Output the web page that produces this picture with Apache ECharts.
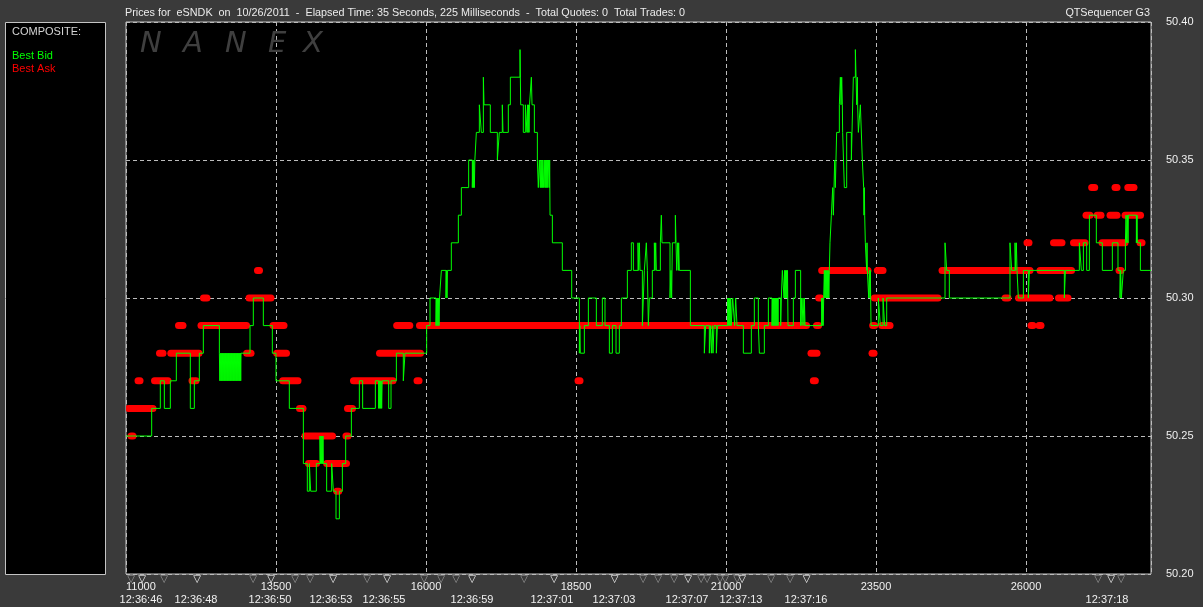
<!DOCTYPE html>
<html><head><meta charset="utf-8">
<script src="https://cdn.jsdelivr.net/npm/echarts@6/dist/echarts.min.js"></script>
<style>html,body{margin:0;padding:0;background:#3a3a3a;}#c{width:1203px;height:607px;}</style>
</head><body><div id="c"></div>
<script>
// ---- data ----
const seqTicks = [11000, 13500, 16000, 18500, 21000, 23500, 26000];
const priceTicks = [50.20, 50.25, 50.30, 50.35, 50.40];
// quote markers (sequence numbers); bright ones carry a time label
const markerSeqGrey = [11083, 11633, 13117, 13817, 14067, 15017, 15967, 16250, 16500, 17633, 19617, 19867, 20133, 20583, 20683, 20900, 20983, 21183, 21750, 22067, 27200, 27583];
const markerSeqWhite = [11267, 12183, 13417, 14450, 15350, 16767, 18133, 19143, 20367, 21267, 22342, 27417];
const timeSeq = [11250, 12167, 13400, 14417, 15300, 16767, 18100, 19133, 20350, 21250, 22333, 27350];
const timeLabels = ['12:36:46', '12:36:48', '12:36:50', '12:36:53', '12:36:55', '12:36:59', '12:37:01', '12:37:03', '12:37:07', '12:37:13', '12:37:16', '12:37:18'];

// Best Bid: [sequence, price] (held until next change)
const bestBid = [
[11000,50.25],[11428,50.26],[11572,50.27],[11639,50.26],[11739,50.27],[11839,50.28],[12072,50.26],[12139,50.27],[12222,50.28],[12289,50.29],[12556,50.28],
[12564,50.27],[12572,50.28],[12581,50.27],[12589,50.28],[12597,50.27],[12606,50.28],[12614,50.27],[12622,50.28],[12631,50.27],[12639,50.28],[12647,50.27],[12656,50.28],[12664,50.27],[12672,50.28],[12681,50.27],[12689,50.28],[12697,50.27],[12706,50.28],[12714,50.27],[12722,50.28],[12731,50.27],[12739,50.28],[12747,50.27],[12756,50.28],[12764,50.27],[12772,50.28],[12781,50.27],[12789,50.28],[12797,50.27],[12806,50.28],[12814,50.27],[12822,50.28],[12831,50.27],[12839,50.28],[12847,50.27],[12856,50.28],[12864,50.27],[12872,50.28],[12881,50.27],[12889,50.28],[12897,50.27],[12906,50.28],[12912,50.27],[12917,50.28],
[13067,50.29],[13122,50.30],[13289,50.29],[13439,50.28],[13500,50.27],[13722,50.26],[13956,50.24],[14022,50.23],[14056,50.24],[14078,50.23],[14172,50.24],[14233,50.25],[14242,50.24],[14250,50.25],[14258,50.24],[14267,50.25],[14275,50.24],[14283,50.25],[14289,50.24],[14344,50.23],[14428,50.24],[14456,50.23],[14500,50.22],[14556,50.23],[14606,50.24],[14661,50.25],[14756,50.26],[14889,50.27],[14944,50.26],[15156,50.27],[15211,50.26],[15219,50.27],[15228,50.26],[15236,50.27],[15244,50.26],[15253,50.27],[15261,50.26],[15269,50.27],[15378,50.26],[15417,50.27],[15506,50.28],[15622,50.27],[15650,50.28],[16011,50.29],[16067,50.30],
[16167,50.29],[16175,50.30],[16183,50.29],[16192,50.30],[16200,50.29],[16208,50.30],[16217,50.29],[16225,50.30],[16256,50.31],[16333,50.30],[16342,50.31],[16350,50.30],[16358,50.31],[16422,50.32],[16539,50.33],[16589,50.34],[16711,50.35],[16772,50.34],[16781,50.35],[16789,50.34],[16797,50.35],[16806,50.34],[16814,50.35],[16839,50.36],[16889,50.37],[16922,50.36],[16956,50.38],[16967,50.37],[17072,50.36],[17189,50.35],[17222,50.36],[17272,50.37],[17283,50.36],[17372,50.37],[17406,50.38],[17567,50.39],[17578,50.37],[17622,50.36],[17656,50.37],[17683,50.36],[17692,50.37],[17700,50.36],[17708,50.37],[17717,50.36],[17725,50.37],[17756,50.38],[17767,50.37],[17806,50.36],[17856,50.35],
[17872,50.34],[17889,50.35],[17906,50.34],[17914,50.35],[17922,50.34],[17931,50.35],[17939,50.34],[17947,50.35],[17956,50.34],[17972,50.35],[17981,50.34],[17989,50.35],[17997,50.34],[18006,50.35],[18014,50.34],[18022,50.35],[18031,50.34],[18039,50.35],[18056,50.34],[18061,50.35],
[18067,50.33],[18106,50.32],[18272,50.31],[18428,50.30],[18556,50.28],[18564,50.29],[18572,50.28],[18639,50.29],[18706,50.30],[18839,50.29],[18939,50.30],[18983,50.29],[19056,50.28],[19106,50.29],[19167,50.28],[19222,50.29],[19256,50.30],[19356,50.31],[19422,50.32],[19456,50.31],[19533,50.32],[19544,50.31],[19556,50.32],[19567,50.31],[19606,50.29],[19639,50.31],[19672,50.32],[19689,50.31],[19706,50.29],[19722,50.30],[19772,50.31],[19806,50.32],[19817,50.31],[19828,50.32],[19839,50.31],[19906,50.32],[19922,50.33],[19933,50.32],[20067,50.30],[20083,50.31],[20094,50.30],[20106,50.32],[20156,50.33],[20167,50.32],[20178,50.31],[20194,50.32],[20206,50.31],[20211,50.32],[20222,50.31],[20406,50.29],[20639,50.28],[20661,50.29],[20722,50.28],[20739,50.29],[20756,50.28],[20772,50.29],[20783,50.28],[20800,50.29],[20839,50.28],[20856,50.29],[21028,50.30],[21036,50.29],[21044,50.30],[21053,50.29],[21061,50.30],[21069,50.29],[21078,50.30],[21086,50.29],[21111,50.30],[21144,50.29],[21161,50.30],[21183,50.29],[21289,50.28],[21422,50.29],[21472,50.30],[21539,50.29],[21556,50.28],[21639,50.29],[21706,50.30],
[21767,50.29],[21775,50.30],[21783,50.29],[21792,50.30],[21800,50.29],[21808,50.30],[21817,50.29],[21825,50.30],[21833,50.29],[21842,50.30],[21850,50.29],[21858,50.30],[21867,50.29],[21872,50.30],
[21911,50.29],[21922,50.30],[21939,50.31],[21967,50.30],[21975,50.31],[21983,50.30],[21992,50.31],[22000,50.30],[22008,50.31],[22017,50.30],[22025,50.31],[22033,50.29],[22122,50.30],[22156,50.31],[22244,50.29],[22256,50.30],[22267,50.29],[22283,50.30],[22300,50.29],[22306,50.30],[22317,50.29],[22594,50.30],[22603,50.29],[22611,50.30],[22619,50.29],[22628,50.30],[22639,50.31],[22647,50.30],[22656,50.31],[22664,50.30],[22672,50.31],[22681,50.30],[22689,50.31],[22697,50.30],[22706,50.31],[22714,50.30],[22722,50.31],[22733,50.32],[22756,50.33],[22778,50.34],[22789,50.33],[22800,50.34],[22811,50.35],[22822,50.34],[22833,50.35],[22844,50.36],[22889,50.37],[22906,50.38],[22917,50.37],[22928,50.38],[22939,50.37],[22944,50.36],[22972,50.34],[23011,50.36],[23089,50.35],[23100,50.36],[23122,50.38],[23156,50.39],[23167,50.38],[23178,50.37],[23189,50.38],[23194,50.37],[23206,50.36],[23239,50.37],[23272,50.35],[23294,50.34],[23300,50.33],[23306,50.34],[23311,50.33],[23322,50.32],[23344,50.31],[23350,50.32],[23356,50.31],[23378,50.30],[23389,50.31],[23400,50.30],[23406,50.31],[23411,50.30],[23417,50.29],[23539,50.30],[23572,50.29],[23617,50.30],[23644,50.29],[23678,50.30],
[24650,50.32],[24678,50.31],[24722,50.30],[25733,50.32],[25761,50.31],[25817,50.32],[25828,50.31],[25839,50.32],[25850,50.31],[25872,50.30],[25956,50.31],[26039,50.30],[26056,50.31],[26639,50.30],[26656,50.31],[26889,50.32],[26922,50.31],[26956,50.32],[27011,50.31],[27056,50.33],[27172,50.32],[27272,50.31],[27439,50.32],[27533,50.31],[27567,50.30],[27578,50.31],[27589,50.30],[27622,50.31],[27656,50.32],[27667,50.33],[27678,50.32],[27689,50.33],[27700,50.32],[27706,50.33],[27839,50.32],[27850,50.33],[27856,50.32],[27906,50.31],[28083,50.31]
];

// Best Ask quote runs: [first sequence, last sequence, price]
const bestAsk = [
[11060,11433,50.26],[11100,11100,50.25],[11217,11217,50.27],[11492,11683,50.27],[11575,11600,50.28],[11763,12200,50.28],[11892,11933,50.29],[12117,12150,50.27],[12267,12992,50.29],[12308,12333,50.30],[13028,13067,50.28],[13067,13400,50.30],[13208,13208,50.31],[13467,13617,50.29],[13528,13658,50.28],[13628,13850,50.27],[13908,13933,50.26],[14000,14425,50.25],[14058,14158,50.24],[14361,14658,50.24],[14528,14528,50.23],[14683,14683,50.25],[14708,14758,50.26],[14808,15433,50.27],[15242,15892,50.28],[15528,15713,50.29],[15867,15867,50.27],[15908,22325,50.29],[18550,18550,50.27],[22433,22500,50.28],[22472,22472,50.27],[22525,22525,50.29],[22561,22561,50.30],[22611,23350,50.31],[23450,23450,50.28],[23461,23461,50.29],[23489,24517,50.30],[23539,23600,50.31],[23611,23717,50.29],[24617,26050,50.31],[25667,25683,50.30],[25892,26383,50.30],[26033,26033,50.32],[26100,26100,50.29],[26233,26233,50.29],[26250,26742,50.31],[26475,26583,50.32],[26558,26683,50.30],[26808,26967,50.32],[27017,27050,50.33],[27111,27128,50.34],[27200,27233,50.33],[27283,27633,50.32],[27417,27500,50.33],[27500,27500,50.34],[27567,27567,50.31],[27667,27892,50.33],[27713,27783,50.34],[27917,27917,50.32]
];

// ---- chart ----
const chart = echarts.init(document.getElementById('c'));
const FONT = 'Liberation Sans, Arial, sans-serif';
const seqMin = 11000, seqMax = 28083;
const whiteSet = new Set(markerSeqWhite);
const timeMap = new Map(timeSeq.map((v, i) => [v, timeLabels[i]]));
const nanex = ['N', 'A', 'N', 'E', 'X'];
const nanexX = [140, 183, 225, 268, 303];

chart.setOption({
  animation: false,
  backgroundColor: '#3a3a3a',
  title: [
    { text: 'Prices for  eSNDK  on  10/26/2011  -  Elapsed Time: 35 Seconds, 225 Milliseconds  -  Total Quotes: 0  Total Trades: 0',
      left: 120, top: 3, textStyle: { color: '#ececec', fontSize: 10.8, fontWeight: 'normal', fontFamily: FONT } },
    { text: 'QTSequencer G3', right: 48, top: 3, textStyle: { color: '#ececec', fontSize: 10.8, fontWeight: 'normal', fontFamily: FONT } }
  ],
  legend: {
    orient: 'vertical', left: 1, top: 45, itemWidth: 0, itemHeight: 0, itemGap: 2, selectedMode: false,
    textStyle: { fontSize: 11, fontFamily: FONT },
    data: [{ name: 'Best Bid', textStyle: { color: '#00ff00' } }, { name: 'Best Ask', textStyle: { color: '#ff0000' } }]
  },
  graphic: [
    { type: 'rect', z: -1, shape: { x: 5.5, y: 22.5, width: 100, height: 552 }, style: { fill: '#000', stroke: '#c4c4c4', lineWidth: 1 } },
    { type: 'text', left: 12, top: 26, style: { text: 'COMPOSITE:', fill: '#d4d4d4', font: '11px ' + FONT } }
  ].concat(nanex.map((ch, i) => ({
    type: 'text', x: nanexX[i], y: 30, z: 1,
    style: { text: ch, fill: '#3f3f3f', font: 'italic 29px "DejaVu Sans", sans-serif' }
  }))),
  grid: { left: 126, right: 52, top: 22, bottom: 33, show: true, backgroundColor: '#000', borderColor: '#c4c4c4', borderWidth: 1 },
  xAxis: [
    { type: 'value', min: seqMin, max: seqMax, interval: 2500,
      axisLine: { show: false }, axisTick: { show: false },
      splitLine: { show: true, lineStyle: { color: '#bcbcbc', type: [4, 3], width: 1 } },
      axisLabel: { color: '#f0f0f0', fontSize: 11, fontFamily: FONT, margin: 7, showMaxLabel: false, alignMinLabel: 'left',
        formatter: v => String(v) } },
    { type: 'value', min: seqMin, max: seqMax, position: 'bottom', gridIndex: 0,
      axisLine: { show: false }, axisTick: { show: false }, splitLine: { show: false },
      axisLabel: { customValues: markerSeqGrey.concat(markerSeqWhite), margin: 0,
        formatter: v => whiteSet.has(v) ? '{w|▽}' : '{g|▽}',
        rich: { w: { color: '#ffffff', fontSize: 10, fontFamily: 'DejaVu Sans' }, g: { color: '#a0a0a0', fontSize: 10, fontFamily: 'DejaVu Sans' } } } },
    { type: 'value', min: seqMin, max: seqMax, position: 'bottom', gridIndex: 0,
      axisLine: { show: false }, axisTick: { show: false }, splitLine: { show: false },
      axisLabel: { customValues: timeSeq, margin: 20, color: '#f0f0f0', fontSize: 11, fontFamily: FONT,
        formatter: v => timeMap.get(v) || '' } }
  ],
  yAxis: {
    type: 'value', position: 'right', min: 50.20, max: 50.40, interval: 0.05,
    axisLine: { show: false }, axisTick: { show: false },
    splitLine: { show: true, lineStyle: { color: '#bcbcbc', type: [4, 3], width: 1 } },
    axisLabel: { color: '#f0f0f0', fontSize: 11, fontFamily: FONT, margin: 15, formatter: v => v.toFixed(2) }
  },
  series: [
    { name: 'Best Ask', type: 'custom', xAxisIndex: 0, yAxisIndex: 0, clip: true, z: 2,
      itemStyle: { color: '#ff0000' },
      encode: { x: [0, 1], y: 2 },
      data: bestAsk,
      renderItem: function (params, api) {
        const p1 = api.coord([api.value(0), api.value(2)]);
        const p2 = api.coord([api.value(1), api.value(2)]);
        const h = 7, ext = 4.5;
        return { type: 'rect', shape: { x: p1[0] - ext, y: p1[1] - h / 2, width: p2[0] - p1[0] + 2 * ext, height: h, r: 3.5 },
          style: { fill: '#ff0000' } };
      } },
    { name: 'Best Bid', type: 'line', step: 'end', xAxisIndex: 0, yAxisIndex: 0, z: 3,
      data: bestBid, showSymbol: false, symbol: 'none', itemStyle: { color: '#00ff00' },
      lineStyle: { color: '#00ff00', width: 1 } }
  ]
});
</script>
</body></html>
